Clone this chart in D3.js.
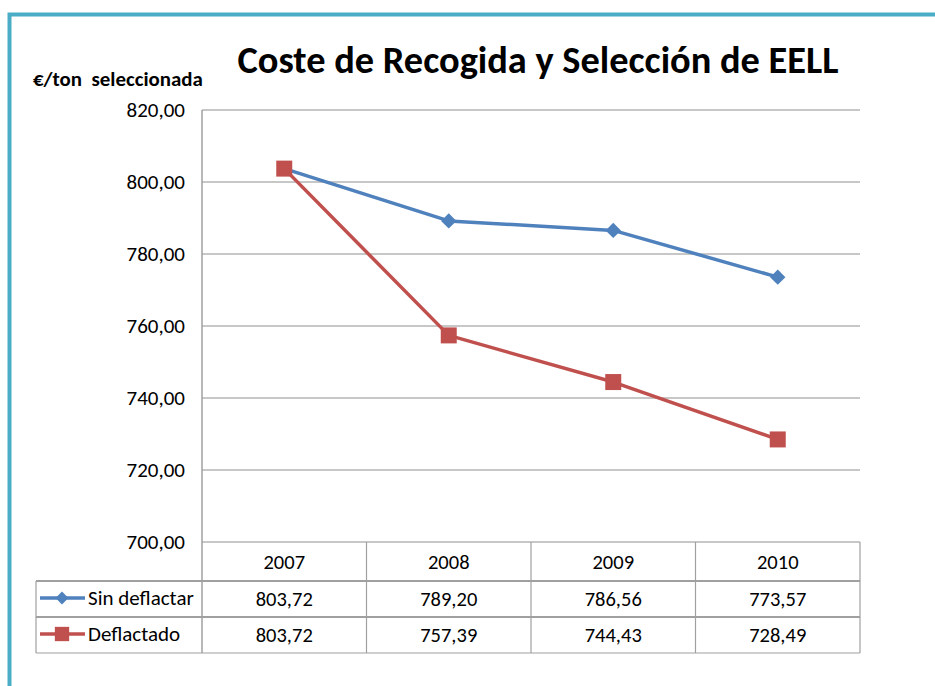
<!DOCTYPE html>
<html>
<head>
<meta charset="utf-8">
<script src="https://cdn.jsdelivr.net/npm/d3@7"></script>
<style>
  body { margin: 0; background: #fff; }
  svg { display: block; }
  text { font-family: Carlito, "Liberation Sans Narrow", "Open Sans", sans-serif; fill: #000; }
</style>
</head>
<body>
<svg id="chart" width="935" height="686"></svg>
<script>
// values
const years = ["2007", "2008", "2009", "2010"];
const sinDeflactar = [803.72, 789.20, 786.56, 773.57];
const deflactado = [803.72, 757.39, 744.43, 728.49];
const seriesNames = ["Sin deflactar", "Deflactado"];
const yTicks = [700, 720, 740, 760, 780, 800, 820];

const title = "Coste de Recogida y Selección de EELL";
const yLabel = "€/ton  seleccionada";

const blue = "#4f81bd", red = "#c0504d", grid = "#b4b4b4";
const FONT = 'Carlito, "Liberation Sans Narrow", "Open Sans", sans-serif';

const svg = d3.select("#chart");
const es = d3.formatLocale({decimal: ",", thousands: ".", grouping: [3], currency: ["", "€"]});
const fmt = es.format(".2f");

// plot area
const pLeft = 202, pRight = 860, pTop = 110, pBottom = 542;
const x = d3.scaleBand().domain(years).range([pLeft, pRight]);
const y = d3.scaleLinear().domain([700, 820]).range([pBottom, pTop]);

// shrink/grow a text's font so it spans the given width
function fitWidth(sel, size, width) {
    sel.style("font-size", size + "px");
    let w = sel.node().getComputedTextLength();
    sel.style("font-size", (size * width / w) + "px");
}

// teal frame
svg.append("path")
    .attr("d", "M9.5,686 L9.5,14.5 L935,14.5")
    .attr("fill", "none")
    .attr("stroke", "#4bacc6")
    .attr("stroke-width", 4);

let t = svg.append("text")
    .attr("x", 538).attr("y", 73)
    .attr("text-anchor", "middle")
    .style("font-weight", "bold")
    .text(title);
fitWidth(t, 32, 601);

let yl = svg.append("text")
    .attr("x", 33).attr("y", 86)
    .attr("xml:space", "preserve")
    .style("white-space", "pre")
    .style("font-weight", "bold")
    .text(yLabel);
fitWidth(yl, 18, 170);

// grid lines
svg.append("g")
    .selectAll("line")
    .data(yTicks)
    .join("line")
    .attr("x1", pLeft).attr("x2", pRight)
    .attr("y1", d => y(d)).attr("y2", d => y(d))
    .attr("stroke", grid)
    .attr("stroke-width", 1.5);

// y axis
let yAxis = svg.append("g")
    .attr("transform", `translate(${pLeft},0)`)
    .call(d3.axisLeft(y).tickValues(yTicks).tickFormat(fmt).tickSize(0).tickPadding(17));
yAxis.select(".domain").remove();
yAxis.selectAll("text")
    .attr("dy", "0.3em")
    .style("font-size", "21px")
    .style("font-family", FONT);

// data table
const rowTop = [pBottom, 581, 617], rowBot = 653, tableLeft = 36;
const tbl = svg.append("g").attr("fill", "none").attr("stroke", "#a0a0a0");
// vertical lines
tbl.append("line").attr("x1", pLeft).attr("x2", pLeft).attr("y1", pTop).attr("y2", rowBot).attr("stroke-width", 1.5);
years.forEach(yr => {
    let xr = x(yr) + x.bandwidth();
    tbl.append("line").attr("x1", xr).attr("x2", xr).attr("y1", pBottom).attr("y2", rowBot).attr("stroke-width", 1.2);
});
tbl.append("line").attr("x1", tableLeft).attr("x2", tableLeft).attr("y1", 581).attr("y2", rowBot).attr("stroke-width", 1.2);
// horizontal lines
tbl.append("line").attr("x1", tableLeft).attr("x2", pRight).attr("y1", 581).attr("y2", 581).attr("stroke-width", 2);
tbl.append("line").attr("x1", tableLeft).attr("x2", pRight).attr("y1", 617).attr("y2", 617).attr("stroke-width", 2);
tbl.append("line").attr("x1", tableLeft).attr("x2", pRight).attr("y1", rowBot).attr("y2", rowBot).attr("stroke-width", 1.2);

svg.append("g").selectAll("text")
    .data(years)
    .join("text")
    .attr("x", d => x(d) + x.bandwidth() / 2)
    .attr("y", (rowTop[0] + rowTop[1]) / 2 + 7)
    .attr("text-anchor", "middle")
    .style("font-size", "20.5px")
    .text(d => d);

const series = [
    {name: seriesNames[0], values: sinDeflactar, color: blue, shape: d3.symbolDiamond2, size: 150},
    {name: seriesNames[1], values: deflactado, color: red, shape: d3.symbolSquare, size: 256}
];

series.forEach((s, i) => {
    let yMid = (rowTop[i + 1] + (rowTop[i + 2] || rowBot)) / 2;
    // values
    svg.append("g").selectAll("text")
        .data(years)
        .join("text")
        .attr("x", d => x(d) + x.bandwidth() / 2)
        .attr("y", yMid + 7)
        .attr("text-anchor", "middle")
        .style("font-size", "20.5px")
        .text((d, j) => fmt(s.values[j]));
    // legend key
    svg.append("line")
        .attr("x1", 40).attr("x2", 85)
        .attr("y1", yMid - 1).attr("y2", yMid - 1)
        .attr("stroke", s.color).attr("stroke-width", 3.5);
    svg.append("path")
        .attr("d", d3.symbol().type(s.shape).size(s.size * (i ? 0.8 : 0.7))())
        .attr("transform", `translate(62,${yMid - 1})`)
        .attr("fill", s.color);
    svg.append("text")
        .attr("x", 88).attr("y", yMid + 6)
        .style("font-size", "21px")
        .text(s.name);
});

// lines and markers
const line = d3.line()
    .x((d, j) => x(years[j]) + x.bandwidth() / 2)
    .y(d => y(d));

series.forEach(s => {
    svg.append("path")
        .datum(s.values)
        .attr("d", line)
        .attr("fill", "none")
        .attr("stroke", s.color)
        .attr("stroke-width", 3.5)
        .attr("stroke-linejoin", "round");
});
series.forEach(s => {
    svg.append("g").selectAll("path")
        .data(s.values)
        .join("path")
        .attr("d", d3.symbol().type(s.shape).size(s.size))
        .attr("transform", (d, j) => `translate(${x(years[j]) + x.bandwidth() / 2},${y(d)})`)
        .attr("fill", s.color);
});
</script>
</body>
</html>
